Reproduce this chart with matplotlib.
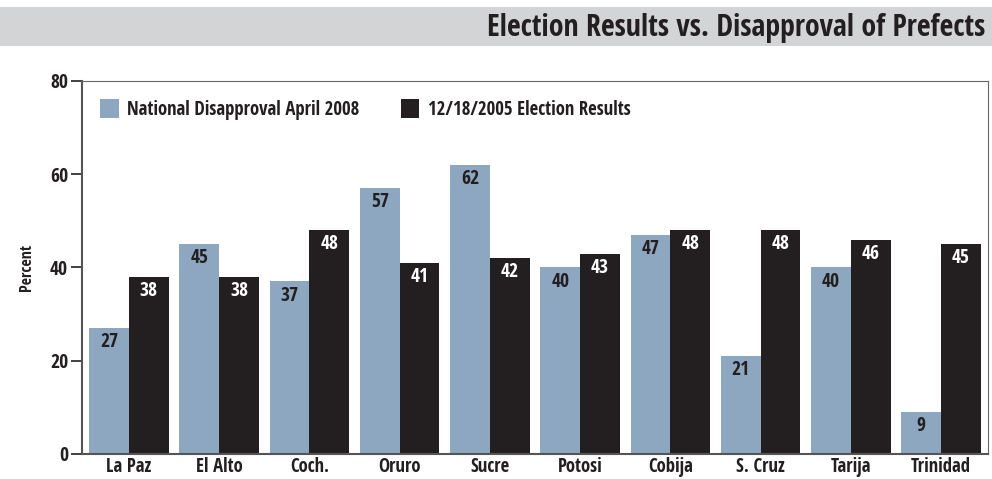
import matplotlib
matplotlib.use("Agg")
import matplotlib.pyplot as plt
from matplotlib import font_manager as fm
from matplotlib.patches import Rectangle
import numpy as np

categories = ["La Paz", "El Alto", "Coch.", "Oruro", "Sucre", "Potosi", "Cobija", "S. Cruz", "Tarija", "Trinidad"]
disapproval = [27, 45, 37, 57, 62, 40, 47, 21, 40, 9]
election = [38, 38, 48, 41, 42, 43, 48, 48, 46, 45]
series_names = ["National Disapproval April 2008", "12/18/2005 Election Results"]
yticks = [0, 20, 40, 60, 80]
title = "Election Results vs. Disapproval of Prefects"

names = {f.name for f in fm.fontManager.ttflist}
FONT = "Open Sans Condensed" if "Open Sans Condensed" in names else "DejaVu Sans"
plt.rcParams['font.family'] = [FONT, 'DejaVu Sans']
plt.rcParams['font.weight'] = 'bold'

LIGHT = "#8DA7C0"
DARK = "#231F20"
TXT = "#231F20"

fig = plt.figure(figsize=(9.92, 4.79), dpi=100)
fig.patches.append(Rectangle((0, 0.904), 1, 0.081, transform=fig.transFigure,
                             facecolor="#D3D4D6", edgecolor="none", zorder=0))
fig.text(0.993, 0.942, title, ha="right", va="center", fontsize=21.5, fontweight="bold", color=TXT)

ax = fig.add_axes([0.0827, 0.0522, 0.9133, 0.7787])
x = np.arange(len(categories))
w = 0.44
b1 = ax.bar(x - w/2, disapproval, w, color=LIGHT, label=series_names[0])
b2 = ax.bar(x + w/2, election, w, color=DARK, label=series_names[1])
for bars, vals, col in ((b1, disapproval, TXT), (b2, election, "white")):
    for r, v in zip(bars, vals):
        ax.annotate(str(v), (r.get_x() + r.get_width()/2, v), xytext=(0, -10.2),
                    textcoords="offset points", ha="center", va="center",
                    fontsize=14, fontweight="bold", color=col)

ax.set_xlim(-0.52, len(categories) - 0.48)
ax.set_ylim(0, 80)
ax.set_yticks(yticks)
ax.set_xticks(x)
ax.set_xticklabels(categories)
ax.tick_params(axis="x", length=0, pad=2, labelsize=13.5, colors=TXT)
ax.tick_params(axis="y", length=8, width=1.2, pad=2, labelsize=14, colors=TXT)
for s in ("left", "bottom"):
    ax.spines[s].set_color("#555555")
    ax.spines[s].set_linewidth(1.5)
for s in ("top", "right"):
    ax.spines[s].set_color("#666666")
    ax.spines[s].set_linewidth(0.8)
ax.set_ylabel("Percent", fontsize=11.5, fontweight="bold", color=TXT, labelpad=11)

leg = ax.legend(loc="upper left", bbox_to_anchor=(0.0, 1.0), ncol=2, frameon=False,
                fontsize=13.5, handlelength=1.0, handleheight=1.2, handletextpad=0.45,
                columnspacing=2.2, borderaxespad=0.55)
for t in leg.get_texts():
    t.set_color(TXT)

fig.savefig("out.png", dpi=100)
